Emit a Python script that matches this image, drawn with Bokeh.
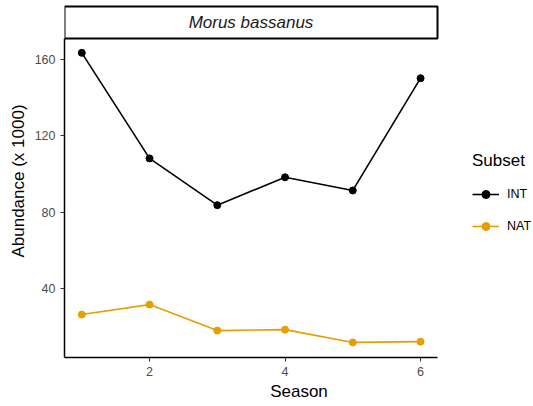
from bokeh.plotting import figure
from bokeh.models import (Legend, LegendItem, Range1d, FixedTicker, ColumnDataSource,
                          BoxAnnotation, Label)
from bokeh.embed import file_html
from bokeh.resources import INLINE

# Seasonal abundance (thousands of birds) per subset
season = [1, 2, 3, 4, 5, 6]
int_abundance = [163.5, 108.2, 83.7, 98.3, 91.4, 150.2]
nat_abundance = [26.4, 31.6, 18.0, 18.5, 11.8, 12.2]
species = "Morus bassanus"
x_ticks = [2, 4, 6]
y_ticks = [40, 80, 120, 160]

FONT = "Liberation Sans"
INT_COLOR = "#000000"
NAT_COLOR = "#E69F00"

W, H = 533, 406
LEFT, BOTTOM, TOP = 64, 49, 4       # borders in pixels
PANEL_W, PANEL_H = 373, 319         # data panel size in pixels
STRIP_H = 32                        # facet strip height in pixels

X_LO, X_HI = 0.745, 6.25
Y_LO, Y_HI = 3.9, 171.0
px_x = PANEL_W / (X_HI - X_LO)
px_y = PANEL_H / (Y_HI - Y_LO)
frame_h = H - TOP - BOTTOM
X_VIEW_HI = X_LO + (W - LEFT) / px_x          # frame reaches the right edge for the legend
Y_VIEW_HI = Y_LO + frame_h / px_y             # frame reaches up over the strip
STRIP_TOP = Y_HI + STRIP_H / px_y

p = figure(width=W, height=H, output_backend="svg", toolbar_location=None,
           x_range=Range1d(X_LO, X_VIEW_HI), y_range=Range1d(Y_LO, Y_VIEW_HI),
           min_border_left=LEFT, min_border_right=0, min_border_top=TOP,
           min_border_bottom=BOTTOM)
p.grid.visible = False
p.outline_line_color = None

# Facet strip
p.add_layout(BoxAnnotation(left=X_LO, right=X_HI, bottom=Y_HI, top=STRIP_TOP,
                           fill_color="white", fill_alpha=1,
                           line_color="black", line_width=2, line_alpha=1))
p.add_layout(Label(x=(X_LO + X_HI) / 2, y=(Y_HI + STRIP_TOP) / 2, text=species,
                   text_font=FONT, text_font_style="italic", text_font_size="17px",
                   text_align="center", text_baseline="middle", text_color="#1A1A1A"))

src_int = ColumnDataSource(dict(x=season, y=int_abundance))
src_nat = ColumnDataSource(dict(x=season, y=nat_abundance))

l_int = p.line("x", "y", source=src_int, line_color=INT_COLOR, line_width=1.6)
c_int = p.scatter("x", "y", source=src_int, size=7, fill_color=INT_COLOR, line_color=INT_COLOR)
l_nat = p.line("x", "y", source=src_nat, line_color=NAT_COLOR, line_width=1.6)
c_nat = p.scatter("x", "y", source=src_nat, size=7, fill_color=NAT_COLOR, line_color=NAT_COLOR)

for ax in (p.xaxis[0], p.yaxis[0]):
    ax.axis_line_color = "black"
    ax.axis_line_width = 1.5
    ax.major_tick_line_color = "#333333"
    ax.major_tick_out = 4
    ax.major_tick_in = 0
    ax.minor_tick_line_color = None
    ax.major_label_text_font = FONT
    ax.major_label_text_font_size = "12.5px"
    ax.major_label_text_color = "#4D4D4D"
    ax.axis_label_text_font = FONT
    ax.axis_label_text_font_size = "17px"
    ax.axis_label_text_font_style = "normal"
    ax.axis_label_text_color = "black"

p.xaxis.bounds = (X_LO, X_HI)
p.yaxis.bounds = (Y_LO, Y_HI)
p.xaxis.ticker = FixedTicker(ticks=x_ticks)
p.yaxis.ticker = FixedTicker(ticks=y_ticks)
p.xaxis.axis_label = "Season"
p.yaxis.axis_label = "Abundance (x 1000)"
p.xaxis.axis_label_standoff = 3
p.yaxis.axis_label_standoff = 4

legend = Legend(items=[LegendItem(label="INT", renderers=[l_int, c_int]),
                       LegendItem(label="NAT", renderers=[l_nat, c_nat])],
                location=(408, 121), title="Subset",
                title_text_font=FONT, title_text_font_size="17px",
                title_text_font_style="normal",
                title_text_color="black", title_standoff=13,
                label_text_font=FONT, label_text_font_size="12.5px",
                label_text_color="black", border_line_color=None,
                background_fill_alpha=0, padding=0, margin=0, spacing=12,
                glyph_width=27, label_standoff=8)
p.add_layout(legend)

open("out.html", "w").write(file_html(p, INLINE))
